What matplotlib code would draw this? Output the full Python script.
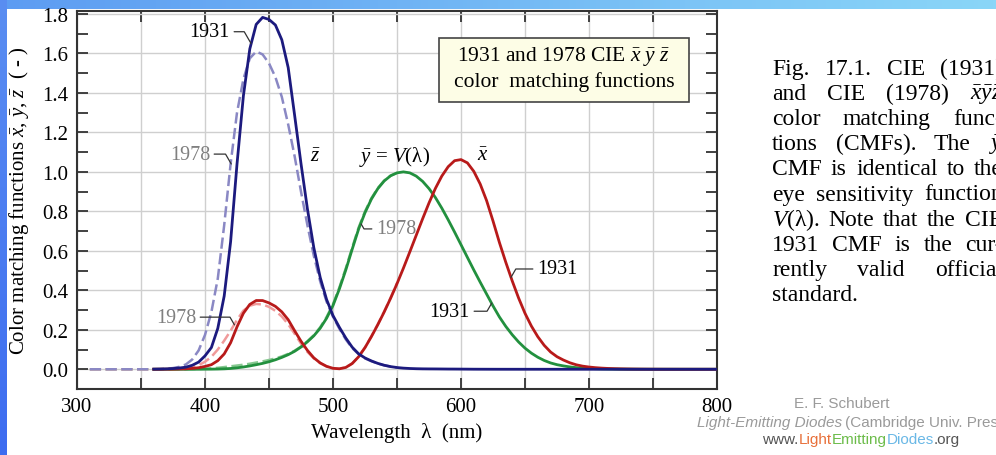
import numpy as np
import matplotlib
matplotlib.use("Agg")
import matplotlib.pyplot as plt
from matplotlib.patches import Rectangle

plt.rcParams["font.family"] = ["Liberation Serif", "DejaVu Serif"]
plt.rcParams["mathtext.fontset"] = "custom"
plt.rcParams["mathtext.rm"] = "Liberation Serif"
plt.rcParams["mathtext.it"] = "Liberation Serif:italic"

# CIE 1931 colour matching functions, 360 - 800 nm in 5 nm steps
wl_1931 = np.arange(360, 805, 5)
xbar_1931 = [
    0.000130, 0.000232, 0.000415, 0.000742, 0.001368, 0.002236, 0.004243, 0.007650, 0.014310, 0.023190,
    0.043510, 0.077630, 0.134380, 0.214770, 0.283900, 0.328500, 0.348280, 0.348060, 0.336200, 0.318700,
    0.290800, 0.251100, 0.195360, 0.142100, 0.095640, 0.057950, 0.032010, 0.014700, 0.004900, 0.002400,
    0.009300, 0.029100, 0.063270, 0.109600, 0.165500, 0.225750, 0.290400, 0.359700, 0.433450, 0.512050,
    0.594500, 0.678400, 0.762100, 0.842500, 0.916300, 0.978600, 1.026300, 1.056700, 1.062200, 1.045600,
    1.002600, 0.938400, 0.854450, 0.751400, 0.642400, 0.541900, 0.447900, 0.360800, 0.283500, 0.218700,
    0.164900, 0.121200, 0.087400, 0.063600, 0.046770, 0.032900, 0.022700, 0.015840, 0.011359, 0.008111,
    0.005790, 0.004109, 0.002899, 0.002049, 0.001440, 0.001000, 0.000690, 0.000476, 0.000332, 0.000235,
    0.000166, 0.000117, 0.000083, 0.000059, 0.000042, 0.000030, 0.000020, 0.000010, 0.000010,
]
ybar_1931 = [
    0.000004, 0.000007, 0.000012, 0.000022, 0.000039, 0.000064, 0.000120, 0.000217, 0.000396, 0.000640,
    0.001210, 0.002180, 0.004000, 0.007300, 0.011600, 0.016840, 0.023000, 0.029800, 0.038000, 0.048000,
    0.060000, 0.073900, 0.090980, 0.112600, 0.139020, 0.169300, 0.208020, 0.258600, 0.323000, 0.407300,
    0.503000, 0.608200, 0.710000, 0.793200, 0.862000, 0.914850, 0.954000, 0.980300, 0.994950, 1.000000,
    0.995000, 0.978600, 0.952000, 0.915400, 0.870000, 0.816300, 0.757000, 0.694900, 0.631000, 0.566800,
    0.503000, 0.441200, 0.381000, 0.321000, 0.265000, 0.217000, 0.175000, 0.138200, 0.107000, 0.081600,
    0.061000, 0.044580, 0.032000, 0.023200, 0.017000, 0.011920, 0.008210, 0.005723, 0.004102, 0.002929,
    0.002091, 0.001484, 0.001047, 0.000740, 0.000520, 0.000361, 0.000249, 0.000172, 0.000120, 0.000085,
    0.000060, 0.000042, 0.000030, 0.000021, 0.000015, 0.000010, 0.000008, 0.000005, 0.000004,
]
zbar_1931 = [
    0.000606, 0.001086, 0.001946, 0.003486, 0.006450, 0.010550, 0.020050, 0.036210, 0.067850, 0.110200,
    0.207400, 0.371300, 0.645600, 1.039050, 1.385600, 1.622960, 1.747060, 1.782600, 1.772110, 1.744100,
    1.669200, 1.528100, 1.287640, 1.041900, 0.812950, 0.616200, 0.465180, 0.353300, 0.272000, 0.212300,
    0.158200, 0.111700, 0.078250, 0.057250, 0.042160, 0.029840, 0.020300, 0.013400, 0.008750, 0.005750,
    0.003900, 0.002750, 0.002100, 0.001800, 0.001650, 0.001400, 0.001100, 0.001000, 0.000800, 0.000600,
    0.000340, 0.000240, 0.000190, 0.000100, 0.000050, 0.000030, 0.000020, 0.000010, 0.0, 0.0,
    0.0, 0.0, 0.0, 0.0, 0.0, 0.0, 0.0, 0.0, 0.0, 0.0,
    0.0, 0.0, 0.0, 0.0, 0.0, 0.0, 0.0, 0.0, 0.0, 0.0,
    0.0, 0.0, 0.0, 0.0, 0.0, 0.0, 0.0, 0.0, 0.0,
]

# CIE 1978 (dashed) curves, 310 - 550 nm; above that they lie under the 1931 ones
wl_1978 = np.arange(310, 555, 5)
xbar_1978 = [
    0.0, 0.0, 0.0, 0.0, 0.0, 0.0, 0.0, 0.0, 0.0, 0.0,
    0.0001, 0.0003, 0.0006, 0.0013, 0.0027, 0.0053, 0.0108, 0.0208, 0.038, 0.063,
    0.100, 0.145, 0.195, 0.250, 0.297, 0.322, 0.331, 0.328, 0.316, 0.296,
    0.267, 0.228, 0.180, 0.130, 0.088, 0.055, 0.031, 0.0146, 0.0049, 0.0023,
    0.0093, 0.0293, 0.0638, 0.1108, 0.1669, 0.2277, 0.2927, 0.3623, 0.4364,
]
ybar_1978 = [
    0.0, 0.0, 0.0, 0.0, 0.0, 0.0, 0.0, 0.0, 0.0, 0.0,
    0.00001, 0.00003, 0.00005, 0.0001, 0.0002, 0.0004, 0.0008, 0.0015, 0.0028, 0.0047,
    0.0074, 0.0110, 0.0150, 0.0190, 0.0230, 0.0280, 0.0340, 0.0400, 0.0470, 0.0550,
    0.0650, 0.0780, 0.0940, 0.1150, 0.1420, 0.1730, 0.2130, 0.2650, 0.3300, 0.4150,
    0.5120, 0.6170, 0.7180, 0.8000, 0.8670, 0.9180, 0.9560, 0.9810, 0.9950,
]
zbar_1978 = [
    0.0, 0.0, 0.0, 0.0, 0.0, 0.0, 0.0, 0.0, 0.0, 0.0,
    0.0002, 0.0008, 0.0029, 0.0061, 0.0123, 0.0242, 0.0493, 0.0951, 0.174, 0.290,
    0.460, 0.730, 1.040, 1.300, 1.470, 1.575, 1.610, 1.595, 1.550, 1.480,
    1.380, 1.240, 1.080, 0.900, 0.730, 0.575, 0.445, 0.342, 0.266, 0.205,
    0.151, 0.107, 0.077, 0.055, 0.041, 0.029, 0.020, 0.014, 0.009,
]

caption = [
    ["Fig.", "17.1.", "CIE", "(1931)"],
    ["and", "CIE", "(1978)", r"$\bar{x}\bar{y}\bar{z}$"],
    ["color", "matching", "func-"],
    ["tions", "(CMFs).", "The", r"$\bar{y}$"],
    ["CMF", "is", "identical", "to", "the"],
    ["eye", "sensitivity", "function"],
    [r"$V$(λ).", "Note", "that", "the", "CIE"],
    ["1931", "CMF", "is", "the", "cur-"],
    ["rently", "valid", "official"],
    ["standard."],
]

W, H = 996, 456
NAVY, GREEN, RED = "#1c1a7e", "#22903e", "#b81a1a"
LAV, LGREEN, PINK = "#8a88c4", "#86c890", "#f09a9a"

fig = plt.figure(figsize=(W / 100, H / 100), dpi=100)
fig.patch.set_facecolor("white")

# blue frame strips
top = fig.add_axes([0, 1 - 10 / H, 1, 10 / H])
top.imshow(np.linspace(0, 1, 256)[None, :], aspect="auto",
           cmap=matplotlib.colors.LinearSegmentedColormap.from_list("t", ["#5d9cf2", "#8ad6f8"]))
top.axis("off")
left = fig.add_axes([0, 0, 6 / W, 1])
left.imshow(np.linspace(0, 1, 256)[:, None], aspect="auto",
            cmap=matplotlib.colors.LinearSegmentedColormap.from_list("l", ["#5a8ef2", "#3d6cf0"]))
left.axis("off")

ax = fig.add_axes([77 / W, 66 / H, 640 / W, 378 / H])
ax.set_xlim(300, 800)
ax.set_ylim(-0.1, 1.815)

dash = (0, (4.5, 1.8))
ax.plot(wl_1978, ybar_1978, color=LGREEN, lw=1.8, ls=dash, zorder=2.5)
ax.plot(wl_1978, xbar_1978, color=PINK, lw=1.8, ls=dash, zorder=3)
ax.plot(wl_1978, zbar_1978, color=LAV, lw=1.8, ls=dash, zorder=3.5)
ax.plot(wl_1931, ybar_1931, color=GREEN, lw=2.0, zorder=4)
ax.plot(wl_1931, xbar_1931, color=RED, lw=2.0, zorder=4)
ax.plot(wl_1931, zbar_1931, color=NAVY, lw=2.0, zorder=5)

ax.set_xticks(np.arange(300, 801, 100))
ax.set_xticks(np.arange(350, 800, 100), minor=True)
ax.set_yticks(np.arange(0, 1.81, 0.2))
ax.set_yticks(np.arange(0.1, 1.8, 0.2), minor=True)
ax.set_yticklabels([f"{v:.1f}" for v in np.arange(0, 1.81, 0.2)])
ax.tick_params(which="both", direction="in", length=8, width=1.3, top=True, right=True,
               color="#333333", labelsize=15, pad=6)
ax.grid(which="both", axis="x", color="#cfcfcf", lw=1.0, zorder=0)
ax.grid(which="major", axis="y", color="#cfcfcf", lw=1.0, zorder=0)
for s in ax.spines.values():
    s.set_color("#333333")
    s.set_linewidth(1.5)

ax.set_xlabel("Wavelength  λ  (nm)", fontsize=15, labelpad=4)
ax.set_ylabel(r"Color matching functions $\bar{x}$, $\bar{y}$, $\bar{z}$  ( - )", fontsize=15, labelpad=8)

# title box
ax.add_patch(Rectangle((0.5656, 0.759), 0.3906, 0.1696, transform=ax.transAxes,
                       fc="#fdfde6", ec="#444444", lw=1.2, zorder=6))
ax.text(0.761, 0.881, r"1931 and 1978 CIE $\bar{x}\ \bar{y}\ \bar{z}$", transform=ax.transAxes,
        ha="center", va="center", fontsize=15.5, zorder=7)
ax.text(0.761, 0.815, "color  matching functions", transform=ax.transAxes,
        ha="center", va="center", fontsize=15.5, zorder=7)

# curve names
ax.text(486, 1.076, r"$\bar{z}$", ha="center", va="center", fontsize=15)
ax.text(547.7, 1.081, r"$\bar{y}$ = $V$(λ)", ha="center", va="center", fontsize=15)
ax.text(617, 1.081, r"$\bar{x}$", ha="center", va="center", fontsize=15)


def leader(txt, xy, xytext, ha, color, angle):
    ax.annotate(txt, xy=xy, xytext=xytext, ha=ha, va="center", color=color, fontsize=14.5,
                zorder=8,
                arrowprops=dict(arrowstyle="-", color="#333333", lw=0.9, shrinkA=1, shrinkB=0,
                                connectionstyle=f"angle,angleA=0,angleB={angle},rad=0"))


leader("1931", (436, 1.65), (419.5, 1.71), "right", "black", 120)
leader("1978", (420.5, 1.04), (403.9, 1.09), "right", "#808080", 120)
leader("1978", (423, 0.225), (393, 0.264), "right", "#808080", 120)
leader("1978", (522, 0.736), (533.6, 0.711), "left", "#808080", 120)
leader("1931", (624, 0.335), (607, 0.294), "right", "black", 60)
leader("1931", (639, 0.465), (659.4, 0.508), "left", "black", 60)

# justified caption on the right
fig.canvas.draw()
r = fig.canvas.get_renderer()
x0, x1 = 772, 1003
for i, words in enumerate(caption):
    yb = 1 - (75 + 25.1 * i) / H
    texts = [fig.text(0, yb, w, fontsize=17, va="baseline") for w in words]
    widths = [t.get_window_extent(r).width for t in texts]
    gap = 5.0
    if i < len(caption) - 1:
        gap = (x1 - x0 - sum(widths)) / (len(words) - 1)
    x = x0
    for t, w in zip(texts, widths):
        t.set_x(x / W)
        x += w + gap

# credit footer
sans = ["Liberation Sans", "DejaVu Sans"]
fig.text(842 / W, 1 - 404 / H, "E. F. Schubert", family=sans, fontsize=11, color="#9a9a9a",
         ha="center", va="center")


def run(pieces, xstart, ypx):
    x = xstart
    for s, col, style in pieces:
        t = fig.text(x / W, 1 - ypx / H, s, family=sans, fontsize=11, color=col,
                     style=style, va="center")
        x += t.get_window_extent(r).width


run([("Light-Emitting Diodes", "#9a9a9a", "italic"),
     ("\u2009(Cambridge Univ. Press)", "#9a9a9a", "normal")], 697, 423)
run([("www.", "#555555", "normal"), ("Light", "#e8703a", "normal"),
     ("Emitting", "#6cbc4a", "normal"), ("Diodes", "#6ab8e6", "normal"),
     (".org", "#555555", "normal")], 762, 440)

fig.savefig("out.png", dpi=100)
